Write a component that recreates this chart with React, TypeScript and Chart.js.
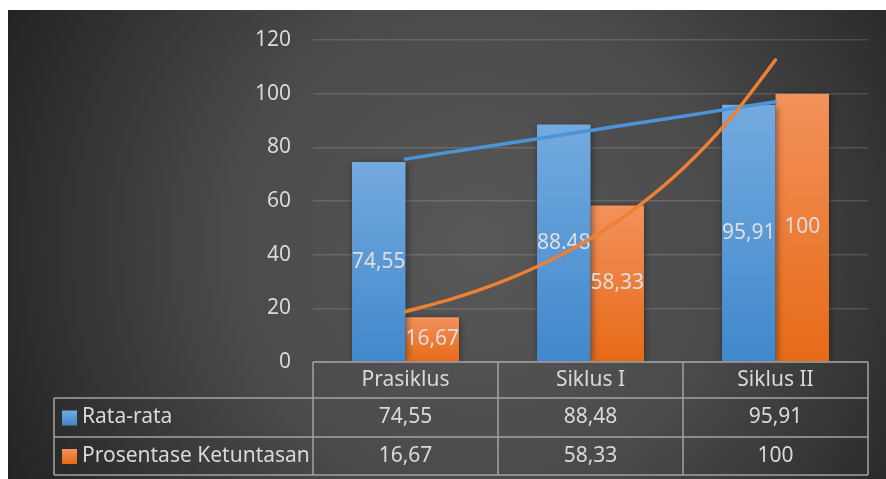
import { useEffect, useRef } from "react";
import { Chart, registerables } from "chart.js";

Chart.register(...registerables);

const categories = ["Prasiklus", "Siklus I", "Siklus II"];
const seriesNames = ["Rata-rata", "Prosentase Ketuntasan"];
const rataRata = [74.55, 88.48, 95.91];
const ketuntasan = [16.67, 58.33, 100];
const rataLabels = ["74,55", "88.48", "95,91"];
const ketuntasanLabels = ["16,67", "58,33", "100"];
const tableRata = ["74,55", "88,48", "95,91"];
const tableKetuntasan = ["16,67", "58,33", "100"];
// trendline positions (category index) and values
const trendPos = [0, 0.25, 0.5, 0.75, 1, 1.25, 1.5, 1.75, 2];
const trendRata = [75.6, 78.3, 81.0, 83.6, 86.3, 89.0, 91.6, 94.3, 97.0];
const trendKetuntasan = [18.8, 23.5, 29.4, 36.8, 46.0, 57.6, 72.1, 90.2, 112.6];

const FONT = '"Noto Sans", "Open Sans", sans-serif';
const TEXT = "#d9d9d9";
const BLUE_TOP = "#73aadf";
const BLUE_BOT = "#4188cc";
const ORANGE_TOP = "#f2925c";
const ORANGE_BOT = "#e76a17";
const BLUE_LINE = "#4d93d8";
const ORANGE_LINE = "#ee7f33";

function barGradient(top: string, bot: string) {
  return (ctx: any) => {
    const chart = ctx.chart;
    if (!chart.chartArea) return bot;
    const y = chart.scales.y;
    const v = ctx.raw as number;
    const t = y.getPixelForValue(v);
    const b = y.getPixelForValue(0);
    if (!isFinite(t) || !isFinite(b) || t === b) return bot;
    const g = chart.ctx.createLinearGradient(0, t, 0, b);
    g.addColorStop(0, top);
    g.addColorStop(1, bot);
    return g;
  };
}

const bgPlugin = {
  id: "bg",
  beforeDraw(chart: any) {
    const { ctx, width, height } = chart;
    ctx.save();
    const g = ctx.createRadialGradient(470, 235, 0, 470, 235, 560);
    g.addColorStop(0, "#585858");
    g.addColorStop(0.45, "#4a4a4a");
    g.addColorStop(1, "#1e1e1e");
    ctx.fillStyle = g;
    ctx.fillRect(0, 0, width, height);
    ctx.restore();
  },
};

const barShadowPlugin = {
  id: "barShadow",
  beforeDatasetDraw(chart: any) {
    const ctx = chart.ctx;
    ctx.save();
    ctx.shadowColor = "rgba(0,0,0,0.45)";
    ctx.shadowBlur = 7;
    ctx.shadowOffsetX = 1;
    ctx.shadowOffsetY = 1;
  },
  afterDatasetDraw(chart: any) {
    chart.ctx.restore();
  },
};

function drawSmooth(ctx: any, pts: { x: number; y: number }[]) {
  ctx.beginPath();
  ctx.moveTo(pts[0].x, pts[0].y);
  for (let i = 0; i < pts.length - 1; i++) {
    const p0 = pts[Math.max(0, i - 1)];
    const p1 = pts[i];
    const p2 = pts[i + 1];
    const p3 = pts[Math.min(pts.length - 1, i + 2)];
    const c1x = p1.x + (p2.x - p0.x) / 6;
    const c1y = p1.y + (p2.y - p0.y) / 6;
    const c2x = p2.x - (p3.x - p1.x) / 6;
    const c2y = p2.y - (p3.y - p1.y) / 6;
    ctx.bezierCurveTo(c1x, c1y, c2x, c2y, p2.x, p2.y);
  }
  ctx.stroke();
}

const overlayPlugin = {
  id: "overlay",
  afterDatasetsDraw(chart: any) {
    const ctx = chart.ctx;
    const xs = chart.scales.x;
    const ys = chart.scales.y;
    // bar value labels
    ctx.save();
    ctx.font = `21px ${FONT}`;
    ctx.fillStyle = "#dedede";
    ctx.textAlign = "center";
    ctx.textBaseline = "middle";
    [0, 1].forEach((di) => {
      const meta = chart.getDatasetMeta(di);
      const labels = di === 0 ? rataLabels : ketuntasanLabels;
      meta.data.forEach((bar: any, i: number) => {
        ctx.fillText(labels[i], bar.x, (bar.y + bar.base) / 2);
      });
    });
    ctx.restore();

    // trendlines
    const x0 = xs.getPixelForValue(0);
    const step = xs.getPixelForValue(1) - x0;
    const toPts = (vals: number[]) =>
      trendPos.map((p, i) => ({ x: x0 + p * step, y: ys.getPixelForValue(vals[i]) }));
    ctx.save();
    ctx.lineWidth = 3.5;
    ctx.lineCap = "round";
    ctx.lineJoin = "round";
    ctx.strokeStyle = BLUE_LINE;
    drawSmooth(ctx, toPts(trendRata));
    ctx.strokeStyle = ORANGE_LINE;
    drawSmooth(ctx, toPts(trendKetuntasan));
    ctx.restore();
  },
};

const tablePlugin = {
  id: "dataTable",
  afterDraw(chart: any) {
    const ctx = chart.ctx;
    const { left, right, bottom } = chart.chartArea;
    const xs = chart.scales.x;
    const n = categories.length;
    const tableLeft = 46;
    const r0 = bottom;
    const r1 = r0 + 36;
    const r2 = r1 + 39;
    const r3 = r2 + 38;
    const colW = (right - left) / n;
    ctx.save();
    ctx.strokeStyle = "#a3a3a3";
    ctx.lineWidth = 1.5;
    ctx.beginPath();
    ctx.moveTo(left, r0);
    ctx.lineTo(right, r0);
    [r1, r2, r3].forEach((r) => {
      ctx.moveTo(tableLeft, r);
      ctx.lineTo(right, r);
    });
    ctx.moveTo(tableLeft, r1);
    ctx.lineTo(tableLeft, r3);
    for (let i = 0; i <= n; i++) {
      const x = left + i * colW;
      ctx.moveTo(x, r0);
      ctx.lineTo(x, r3);
    }
    ctx.stroke();

    ctx.font = `21px ${FONT}`;
    ctx.fillStyle = TEXT;
    ctx.textBaseline = "middle";
    ctx.textAlign = "center";
    categories.forEach((c, i) => {
      const cx = xs.getPixelForValue(i);
      ctx.fillText(c, cx, (r0 + r1) / 2);
      ctx.fillText(tableRata[i], cx, (r1 + r2) / 2);
      ctx.fillText(tableKetuntasan[i], cx, (r2 + r3) / 2);
    });

    const rowsMid = [(r1 + r2) / 2, (r2 + r3) / 2];
    const sw = [
      [BLUE_TOP, BLUE_BOT],
      [ORANGE_TOP, ORANGE_BOT],
    ];
    seriesNames.forEach((name, i) => {
      const cy = rowsMid[i];
      const g = ctx.createLinearGradient(0, cy - 7, 0, cy + 7);
      g.addColorStop(0, sw[i][0]);
      g.addColorStop(1, sw[i][1]);
      ctx.fillStyle = g;
      ctx.fillRect(54, cy - 7, 15, 15);
      ctx.fillStyle = TEXT;
      ctx.textAlign = "left";
      ctx.fillText(name, 74, cy);
    });
    ctx.restore();
  },
};

export default function App() {
  const ref = useRef<HTMLCanvasElement | null>(null);

  useEffect(() => {
    if (!ref.current) return;
    const chart = new Chart(ref.current, {
      type: "bar",
      data: {
        labels: categories,
        datasets: [
          {
            label: seriesNames[0],
            data: rataRata,
            backgroundColor: barGradient(BLUE_TOP, BLUE_BOT),
            categoryPercentage: 0.578,
            barPercentage: 1,
            borderWidth: 0,
          },
          {
            label: seriesNames[1],
            data: ketuntasan,
            backgroundColor: barGradient(ORANGE_TOP, ORANGE_BOT),
            categoryPercentage: 0.578,
            barPercentage: 1,
            borderWidth: 0,
          },
        ],
      },
      options: {
        responsive: false,
        animation: false,
        devicePixelRatio: 1,
        layout: { padding: { left: 0, right: 18, top: 30, bottom: 117 } },
        plugins: {
          legend: { display: false },
          tooltip: { enabled: false },
        },
        scales: {
          x: {
            type: "category",
            display: false,
            offset: true,
            grid: { display: false },
          },
          y: {
            min: 0,
            max: 120,
            ticks: {
              stepSize: 20,
              color: TEXT,
              font: { family: FONT, size: 21 },
              padding: 0,
            },
            grid: {
              color: "rgba(255,255,255,0.14)",
              lineWidth: 1.5,
              drawTicks: true,
              tickLength: 22,
              tickColor: "rgba(0,0,0,0)",
            },
            border: { display: false },
            afterFit: (s: any) => {
              s.width = 305;
            },
          },
        },
      } as any,
      plugins: [bgPlugin, barShadowPlugin, overlayPlugin, tablePlugin],
    });
    return () => chart.destroy();
  }, []);

  return (
    <div
      style={{
        position: "fixed",
        left: 0,
        top: 0,
        width: 886,
        height: 479,
        background: "#ffffff",
        overflow: "hidden",
      }}
    >
      <canvas
        ref={ref}
        width={878}
        height={469}
        style={{ position: "absolute", left: 8, top: 10, width: 878, height: 469 }}
      />
    </div>
  );
}
